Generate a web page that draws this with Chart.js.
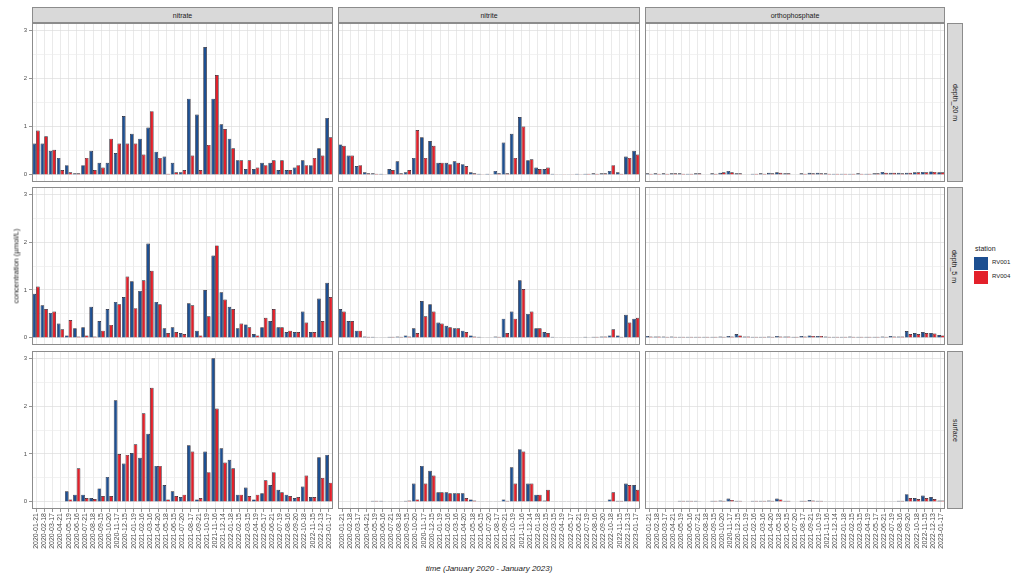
<!DOCTYPE html>
<html>
<head>
<meta charset="utf-8">
<script src="https://cdn.jsdelivr.net/npm/chart.js@4/dist/chart.umd.min.js"></script>
<style>
  html, body { margin: 0; padding: 0; background: #ffffff; }
  #fig { position: relative; width: 1019px; height: 575px; overflow: hidden;
         font-family: "Liberation Sans", Arial, sans-serif; color: #1a1a1a; }
  .panel { position: absolute; }
  .strip { position: absolute; box-sizing: border-box; background: #d9d9d9;
           border: 1px solid #8c8c8c; display: flex; align-items: center;
           justify-content: center; font-size: 7px; color: #1a1a1a; }
  .strip.row span { transform: rotate(90deg); white-space: nowrap; }
  .txt { position: absolute; white-space: nowrap; }
  .key { position: absolute; width: 14px; height: 13px; }
</style>
</head>
<body>
<div id="fig"></div>
<script>
// sampling dates (x categories)
const dates = ["2020-01-21","2020-02-18","2020-03-17","2020-04-21","2020-05-19","2020-06-16",
  "2020-07-21","2020-08-18","2020-09-15","2020-10-20","2020-11-17","2020-12-15","2021-01-19",
  "2021-02-16","2021-03-16","2021-04-20","2021-05-18","2021-06-15","2021-07-20","2021-08-17",
  "2021-09-21","2021-10-19","2021-11-16","2021-12-14","2022-01-18","2022-02-15","2022-03-15",
  "2022-04-19","2022-05-17","2022-06-21","2022-07-19","2022-08-16","2022-09-20","2022-10-18",
  "2022-11-15","2022-12-13","2023-01-17"];

const parameters = ["nitrate", "nitrite", "orthophosphate"];
const depths = ["depth_20 m", "depth_5 m", "surface"];
const stations = ["RV001", "RV004"];
const yTicks = [0, 1, 2, 3];

// nitrate (µmol/L)
const nitrate_d20_rv001 = [0.65,0.65,0.50,0.35,0.20,0.03,0.20,0.50,0.25,0.25,0.45,1.22,0.85,0.75,0.98,0.48,0.38,0.25,0.05,1.58,1.25,2.65,1.58,1.05,0.75,0.30,0.12,0.12,0.25,0.25,0.10,0.10,0.15,0.30,0.20,0.55,1.18];
const nitrate_d20_rv004 = [0.92,0.80,0.52,0.10,0.05,0.03,0.35,0.10,0.15,0.75,0.65,0.65,0.65,0.42,1.32,0.35,0.02,0.05,0.10,0.40,0.10,0.62,2.07,0.95,0.55,0.30,0.30,0.15,0.20,0.30,0.30,0.10,0.20,0.20,0.35,0.40,0.78];
const nitrate_d5_rv001 = [0.92,0.68,0.52,0.30,0.05,0.20,0.22,0.65,0.35,0.60,0.75,0.85,1.18,0.98,1.97,0.75,0.20,0.22,0.10,0.72,0.15,1.00,1.72,0.95,0.65,0.20,0.28,0.08,0.22,0.35,0.22,0.12,0.12,0.55,0.12,0.82,1.15];
const nitrate_d5_rv004 = [1.07,0.60,0.55,0.18,0.37,0.03,0.05,0.03,0.15,0.27,0.70,1.28,0.62,1.20,1.40,0.70,0.10,0.12,0.08,0.68,0.05,0.45,1.93,0.80,0.60,0.30,0.22,0.05,0.42,0.60,0.22,0.15,0.12,0.32,0.12,0.35,0.85];
const nitrate_sf_rv001 = [null,null,null,null,0.22,0.15,0.15,0.08,0.28,0.52,2.12,0.80,1.02,0.92,1.42,0.75,0.35,0.22,0.10,1.18,0.05,1.05,3.00,1.12,0.88,0.15,0.30,0.05,0.18,0.35,0.25,0.15,0.08,0.32,0.10,0.93,0.98];
const nitrate_sf_rv004 = [null,null,null,null,0.05,0.70,0.08,0.06,0.12,0.12,1.00,0.98,1.20,1.85,2.38,0.75,0.05,0.12,0.15,1.05,0.08,0.62,1.95,0.82,0.70,0.15,0.12,0.15,0.45,0.62,0.20,0.12,0.10,0.55,0.10,0.50,0.40];

// nitrite (µmol/L)
const nitrite_d20_rv001 = [0.63,0.40,0.18,0.05,0.03,0.02,0.12,0.28,0.05,0.35,0.78,0.70,0.25,0.25,0.28,0.22,0.05,0.02,0.02,0.08,0.67,0.85,1.20,0.30,0.15,0.12,0.02,0.01,0.01,0.02,0.02,0.03,0.03,0.08,0.05,0.38,0.50];
const nitrite_d20_rv004 = [0.60,0.40,0.20,0.03,0.02,0.01,0.10,0.03,0.10,0.93,0.35,0.60,0.25,0.22,0.25,0.18,0.03,0.01,0.01,0.03,0.03,0.35,1.00,0.32,0.12,0.15,0.01,0.01,0.01,0.01,0.02,0.02,0.03,0.20,0.02,0.35,0.42];
const nitrite_d5_rv001 = [0.60,0.35,0.15,0.03,0.02,0.01,0.02,0.03,0.05,0.20,0.77,0.70,0.32,0.25,0.20,0.15,0.05,0.02,0.01,0.03,0.40,0.55,1.20,0.50,0.20,0.12,0.02,0.01,0.01,0.01,0.02,0.02,0.03,0.05,0.05,0.48,0.40];
const nitrite_d5_rv004 = [0.55,0.35,0.15,0.02,0.01,0.01,0.02,0.02,0.03,0.10,0.45,0.55,0.30,0.22,0.20,0.12,0.03,0.01,0.01,0.02,0.10,0.40,1.02,0.55,0.20,0.10,0.01,0.01,0.01,0.01,0.01,0.02,0.03,0.18,0.02,0.32,0.42];
const nitrite_sf_rv001 = [null,null,null,null,0.02,0.02,0.01,0.01,0.02,0.38,0.75,0.65,0.20,0.20,0.18,0.18,0.05,0.01,0.01,0.01,0.05,0.72,1.10,0.38,0.15,0.03,0.01,0.01,0.01,0.01,0.01,0.01,0.01,0.05,0.02,0.38,0.35];
const nitrite_sf_rv004 = [null,null,null,null,0.02,0.01,0.01,0.01,0.03,0.05,0.38,0.55,0.20,0.18,0.18,0.08,0.03,0.01,0.01,0.01,0.02,0.38,1.05,0.38,0.15,0.25,0.01,0.01,0.01,0.01,0.01,0.01,0.01,0.20,0.02,0.35,0.25];

// orthophosphate (µmol/L)
const ortho_d20_rv001 = [0.03,0.03,0.03,0.03,0.03,0.02,0.03,null,0.03,0.04,0.08,0.03,null,0.02,0.03,0.04,0.05,0.03,null,0.03,0.04,0.04,0.03,0.02,0.02,0.02,0.03,0.02,0.03,0.06,0.04,0.04,0.04,0.05,0.06,0.07,0.05];
const ortho_d20_rv004 = [0.02,0.02,0.02,0.03,0.02,0.02,0.03,null,0.02,0.05,0.05,0.03,null,0.02,0.02,0.03,0.04,0.03,null,0.02,0.03,0.03,0.02,0.02,0.02,0.02,0.02,0.02,0.03,0.04,0.04,0.03,0.04,0.05,0.05,0.06,0.05];
const ortho_d5_rv001 = [0.04,0.03,0.03,0.03,0.02,0.02,0.02,0.02,0.02,0.03,0.04,0.08,0.03,0.02,0.02,0.03,0.04,0.03,0.02,0.04,0.05,0.04,0.03,0.02,0.02,0.03,0.02,0.02,0.02,0.03,0.04,0.03,0.14,0.10,0.12,0.10,0.06];
const ortho_d5_rv004 = [0.03,0.03,0.02,0.02,0.02,0.02,0.02,0.02,0.02,0.02,0.03,0.05,0.03,0.02,0.02,0.02,0.03,0.03,0.02,0.03,0.04,0.04,0.02,0.02,0.02,0.02,0.02,0.02,0.02,0.02,0.03,0.03,0.08,0.08,0.10,0.09,0.05];
const ortho_sf_rv001 = [null,null,null,null,0.02,0.02,0.02,null,0.02,0.03,0.07,0.02,null,0.02,0.02,0.03,0.07,0.02,null,0.02,0.04,0.02,0.01,0.01,0.01,0.01,0.01,0.01,0.01,0.01,0.01,0.02,0.16,0.08,0.13,0.10,0.03];
const ortho_sf_rv004 = [null,null,null,null,0.02,0.02,0.01,null,0.02,0.02,0.04,0.02,null,0.02,0.02,0.02,0.05,0.02,null,0.02,0.03,0.02,0.01,0.01,0.01,0.01,0.01,0.01,0.01,0.01,0.01,0.02,0.08,0.06,0.08,0.06,0.03];

// grid of facets: [row][column] -> [RV001, RV004]
const facetData = [
  [[nitrate_d20_rv001, nitrate_d20_rv004], [nitrite_d20_rv001, nitrite_d20_rv004], [ortho_d20_rv001, ortho_d20_rv004]],
  [[nitrate_d5_rv001,  nitrate_d5_rv004],  [nitrite_d5_rv001,  nitrite_d5_rv004],  [ortho_d5_rv001,  ortho_d5_rv004]],
  [[nitrate_sf_rv001,  nitrate_sf_rv004],  [nitrite_sf_rv001,  nitrite_sf_rv004],  [ortho_sf_rv001,  ortho_sf_rv004]]
];

// layout of the facet grid
const colLeft = [32, 338, 645], colWidth = [301, 302, 300];
const rowTop = [23, 187, 351], rowHeight = [159, 158, 158];
const Y_AXIS_W = 20, X_AXIS_H = 52;
const COLORS = ["#1d4f91", "#e3202a"];
const EDGE = "#1e1a26";
const FONT = "'Liberation Sans', Arial, sans-serif";

Chart.defaults.font.family = FONT;

const fig = document.getElementById('fig');

function addDiv(cls, x, y, w, h, html) {
  const d = document.createElement('div');
  d.className = cls;
  d.style.left = x + 'px'; d.style.top = y + 'px';
  if (w != null) d.style.width = w + 'px';
  if (h != null) d.style.height = h + 'px';
  if (html != null) d.innerHTML = html;
  fig.appendChild(d);
  return d;
}

// panel frame
const panelBorder = {
  id: 'panelBorder',
  afterDraw(chart) {
    const a = chart.chartArea, ctx = chart.ctx;
    ctx.save();
    ctx.strokeStyle = '#8c8c8c';
    ctx.lineWidth = 1;
    ctx.strokeRect(Math.round(a.left) + 0.5, Math.round(a.top) + 0.5,
                   Math.round(a.right - a.left) - 1, Math.round(a.bottom - a.top) - 1);
    ctx.restore();
  }
};

for (let r = 0; r < 3; r++) {
  for (let c = 0; c < 3; c++) {
    const isLeft = c === 0, isBottom = r === 2;
    const x0 = colLeft[c] - (isLeft ? Y_AXIS_W : 0);
    const w = colWidth[c] + (isLeft ? Y_AXIS_W : 0);
    const h = rowHeight[r] + (isBottom ? X_AXIS_H : 0);
    const holder = addDiv('panel', x0, rowTop[r], w, h);
    const cv = document.createElement('canvas');
    cv.width = w; cv.height = h;
    cv.style.width = w + 'px'; cv.style.height = h + 'px';
    holder.appendChild(cv);

    const series = facetData[r][c];
    new Chart(cv, {
      type: 'bar',
      data: {
        labels: dates,
        datasets: stations.map((s, k) => ({
          label: s,
          data: series[k],
          backgroundColor: COLORS[k],
          borderColor: EDGE,
          borderWidth: 0.7,
          categoryPercentage: 0.9,
          barPercentage: 1.0
        }))
      },
      options: {
        responsive: false,
        animation: false,
        devicePixelRatio: 1,
        events: [],
        layout: { padding: 0 },
        plugins: { legend: { display: false }, tooltip: { enabled: false } },
        scales: {
          x: {
            offset: true,
            border: { display: false },
            grid: {
              offset: false, color: '#e1e1e1', lineWidth: 0.7,
              drawTicks: isBottom, tickLength: 3, tickColor: '#4d4d4d', tickWidth: 0.6
            },
            ticks: {
              display: isBottom, autoSkip: false, minRotation: 90, maxRotation: 90,
              padding: 1, color: '#4d4d4d', font: { size: 7 }
            },
            afterFit(s) { s.height = isBottom ? X_AXIS_H : 0; s.paddingLeft = 0; s.paddingRight = 0; }
          },
          y: {
            min: -0.15, max: 3.15,
            border: { display: false },
            grid: {
              color: ctx => (ctx.tick && Number.isInteger(ctx.tick.value)) ? '#dcdcdc' : '#ededed',
              lineWidth: 0.7,
              drawTicks: isLeft, tickLength: 3, tickWidth: 0.6,
              tickColor: ctx => (ctx.tick && Number.isInteger(ctx.tick.value)) ? '#4d4d4d' : 'rgba(0,0,0,0)'
            },
            ticks: {
              display: isLeft, stepSize: 0.5, includeBounds: false, padding: 2,
              color: '#4d4d4d', font: { size: 6 },
              callback: v => yTicks.includes(v) ? String(v) : ''
            },
            afterFit(s) { s.width = isLeft ? Y_AXIS_W : 0; s.paddingTop = 0; s.paddingBottom = 0; }
          }
        }
      },
      plugins: [panelBorder]
    });
  }
}

// column strips
parameters.forEach((p, c) => addDiv('strip', colLeft[c], 7, colWidth[c], 16, p));
// row strips
depths.forEach((d, r) => addDiv('strip row', 947, rowTop[r], 16, rowHeight[r], '<span>' + d + '</span>'));

// axis titles
const yt = addDiv('txt', 0, 0, null, null, 'concentration (µmol/L)');
yt.style.fontSize = '7.5px';
yt.style.left = '16px'; yt.style.top = '266px';
yt.style.transform = 'translate(-50%, -50%) rotate(-90deg)';
const xt = addDiv('txt', 0, 0, null, null, 'time (January 2020 - January 2023)');
xt.style.fontSize = '8px'; xt.style.fontStyle = 'italic';
xt.style.left = '489px'; xt.style.top = '568px';
xt.style.transform = 'translate(-50%, -50%)';

// legend
const lt = addDiv('txt', 975, 245, null, null, 'station');
lt.style.fontSize = '7px';
stations.forEach((s, k) => {
  const key = addDiv('key', 974, 257 + k * 14);
  key.style.background = COLORS[k];
  const lab = addDiv('txt', 992, 259 + k * 14, null, null, s);
  lab.style.fontSize = '6px';
});
</script>
</body>
</html>
